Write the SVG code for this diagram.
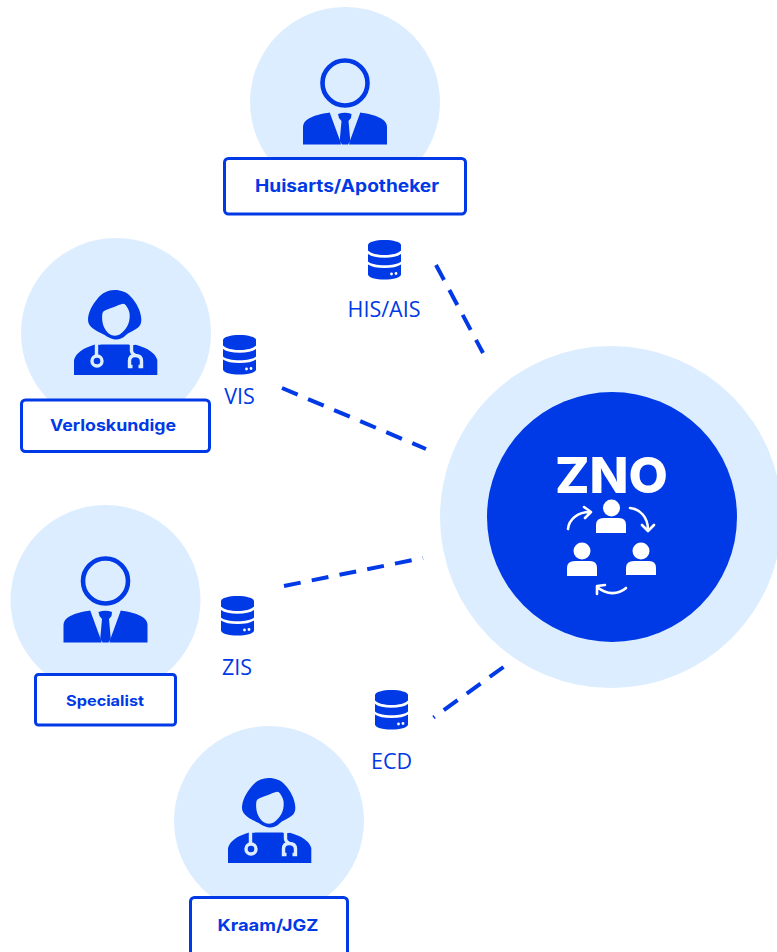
<svg xmlns="http://www.w3.org/2000/svg" width="777" height="952" viewBox="0 0 777 952">
<style>
.halo{fill:#dcedff}
.box{fill:#fff;stroke:#0039e6;stroke-width:3}
.lbl{font-family:"Inter","Liberation Sans",sans-serif;font-weight:700;fill:#0039e6;text-anchor:middle}
.db{font-family:"Open Sans","Liberation Sans",sans-serif;font-size:21.5px;fill:#0039e6;text-anchor:middle}
.dash{fill:none;stroke:#0039e6;stroke-width:4;stroke-dasharray:17 11.3}
.ink{fill:#0039e6}
.arr{fill:none;stroke:#fff;stroke-width:2.6;stroke-linecap:round;stroke-linejoin:round}
.st{fill:none;stroke:#dcedff;stroke-width:3.4}
</style>
<defs>
<symbol id="man" overflow="visible" viewBox="0 0 84 90" width="84" height="90">
<circle cx="42" cy="25" r="22.5" fill="none" stroke="#0039e6" stroke-width="4.6"/>
<path class="ink" d="M0 86.500V69C0 60 14 56.500 26.700 54.500L37.500 84L38 86.500Z"/>
<path class="ink" d="M84 86.500V69C84 60 70 56.500 57.300 54.500L46.500 84L46 86.500Z"/>
<path class="ink" d="M35 56Q42 53.500 48.500 56L48 60L45.500 63L47.300 83L45 86.500H39L36.700 83L38.500 63L36 60Z"/>
</symbol>
<symbol id="woman" overflow="visible" viewBox="0 0 84 86" width="84" height="86">
<path class="ink" d="M40.700 0C47 0 53 2 57 7C62 12 67 21 67.300 29C67.500 35 65 37 62 39C58 41.500 54 43 52 45C48 49 44 50 40.700 49.500C37 49 33.500 47 30.700 45C27 43 22 41 19 38.500C15.500 36 13.700 33 14 29C14.500 22 18 15 24 8C28 3 34 0 40.700 0Z"/>
<path fill="#dcedff" d="M28.500 23Q29 21 32 20C38 18 44 15 48 14Q50.500 13 52 15.500C55 19.500 56 23 55.700 27C55.500 32 54 36 51 39.500C48 43 45 45.700 41 45.700C36.500 45.700 33 42.500 31 39C28.500 35 27.500 28 28.500 23Z"/>
<path class="ink" d="M0 85V70C2 63 9 58 21 54.500H61C74 58 81 63 83.300 70V85Z"/>
<path class="st" d="M22.500 52V65M57.500 52V61Q58 64 61 65"/>
<circle cx="23" cy="71" r="5" class="st"/>
<path class="st" d="M58.500 76.500H55.500V71Q55.500 65.500 61 65.500Q67.500 65.500 67.500 71V76.500H64.500"/>
<path fill="#dcedff" d="M20.500 53Q25 55.500 27 54.300L25 51H20ZM56 51H60.500L61.500 55H55Z"/>
</symbol>
<symbol id="cyl" overflow="visible" viewBox="0 0 33 40" width="33" height="40">
<path class="ink" d="M0 5C0 2 8 0 16.500 0S33 2 33 5V10.500C30 13.500 24 15 16.500 15S3 13.500 0 10.500Z"/>
<path class="ink" d="M0 14C3.500 16.500 9 17.800 16.500 17.800S29.500 16.500 33 14V21.500C30 24 24 25.200 16.500 25.200S3 24 0 21.500Z"/>
<path class="ink" d="M0 24.500C3.500 27 9 28 16.500 28S29.500 27 33 24.500V34.500C33 37.500 25 39.500 16.500 39.500S0 37.500 0 34.500Z"/>
<circle cx="23.500" cy="34" r="1.400" fill="#fff"/><circle cx="28" cy="33.500" r="1.400" fill="#fff"/>
</symbol>
</defs>

<g id="connectors">
<line class="dash" x1="436" y1="265" x2="483" y2="353"/>
<line class="dash" x1="282" y1="388" x2="426" y2="449"/>
<line class="dash" x1="284" y1="586" x2="423" y2="558"/>
<line class="dash" x1="503.500" y1="667" x2="433.500" y2="717.500"/>
</g>

<g id="node-huisarts">
<circle class="halo" cx="345" cy="102" r="95"/>
<use href="#man" x="303" y="58"/>
<rect class="box" x="224.500" y="158.500" width="241" height="55.500" rx="4"/>
<text class="lbl" x="347" y="192" font-size="17" textLength="184" lengthAdjust="spacingAndGlyphs">Huisarts/Apotheker</text>
</g>
<g id="node-verloskundige">
<circle class="halo" cx="116" cy="333" r="95"/>
<use href="#woman" x="74" y="290"/>
<rect class="box" x="21.500" y="400" width="188" height="51.500" rx="4"/>
<text class="lbl" x="113" y="431" font-size="15.500" textLength="126" lengthAdjust="spacingAndGlyphs">Verloskundige</text>
</g>
<g id="node-specialist">
<circle class="halo" cx="105.500" cy="600" r="95"/>
<use href="#man" x="63.500" y="556"/>
<rect class="box" x="35.500" y="674.500" width="140" height="50.500" rx="3"/>
<text class="lbl" x="105" y="706" font-size="14.500" textLength="78" lengthAdjust="spacingAndGlyphs">Specialist</text>
</g>
<g id="node-kraam">
<circle class="halo" cx="269" cy="821" r="95"/>
<use href="#woman" x="228" y="778"/>
<rect class="box" x="190.500" y="897.500" width="157" height="60" rx="4"/>
<text class="lbl" x="268" y="931" font-size="16.500" textLength="101" lengthAdjust="spacingAndGlyphs">Kraam/JGZ</text>
</g>

<g id="node-his"><use href="#cyl" x="368" y="240"/><text class="db" x="384" y="317">HIS/AIS</text></g>
<g id="node-vis"><use href="#cyl" x="223" y="335"/><text class="db" x="239.500" y="404">VIS</text></g>
<g id="node-zis"><use href="#cyl" x="221" y="596"/><text class="db" x="237" y="675">ZIS</text></g>
<g id="node-ecd"><use href="#cyl" x="375" y="690"/><text class="db" x="391.500" y="769">ECD</text></g>

<g id="node-zno">
<circle class="halo" cx="611" cy="517" r="171"/>
<circle class="ink" cx="612" cy="517" r="125"/>
<text x="611.500" y="493" font-family="Inter, 'Liberation Sans', sans-serif" font-weight="800" font-size="49" fill="#fff" text-anchor="middle" textLength="113" lengthAdjust="spacingAndGlyphs">ZNO</text>
<g fill="#fff">
<circle cx="611.500" cy="508" r="8.500"/><path d="M596 533V525Q596 518 604 518H619Q626 518 626 525V533Z"/>
<circle cx="582" cy="551" r="8.500"/><path d="M567 576V568Q567 561 575 561H590Q597 561 597 568V576Z"/>
<circle cx="641" cy="551" r="8.500"/><path d="M626 575V568Q626 561 634 561H649Q656 561 656 568V575Z"/>
</g>
<path class="arr" d="M568 529C569 519 578 512 590 512M584 507L591 512L585 518"/>
<path class="arr" d="M630 508C640 509 648 517 648 530M642 525L648 531L654 525"/>
<path class="arr" d="M626 588C618 595 607 595 597 587M597 594L597 586L605 585"/>
</g>
</svg>
